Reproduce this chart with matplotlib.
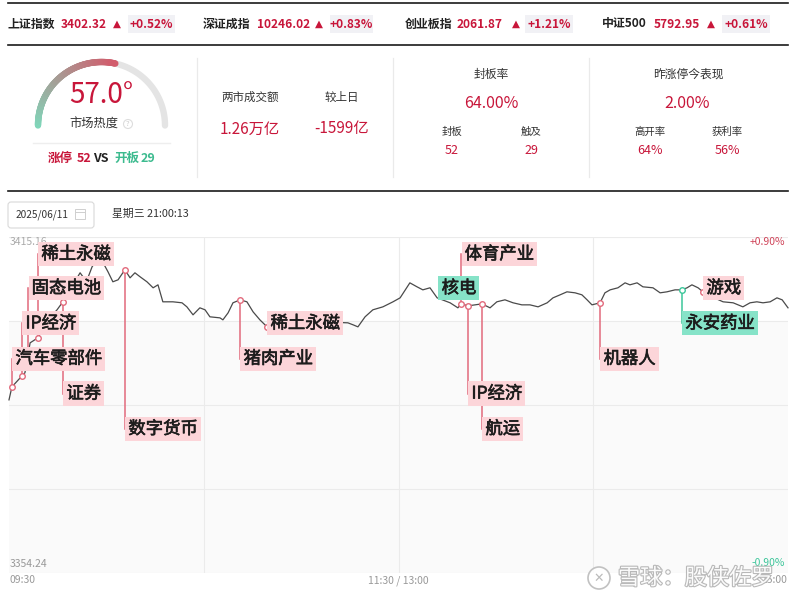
import numpy as np
import matplotlib
matplotlib.use('Agg')
import matplotlib.pyplot as plt
import matplotlib.colors as mcolors
from matplotlib.patches import Rectangle, FancyBboxPatch, Circle
from matplotlib.collections import LineCollection
from matplotlib import patheffects as pe

plt.rcParams['font.family'] = ['Noto Sans CJK SC', 'DejaVu Sans']

# ---------------- data ----------------
index_names = ['上证指数', '深证成指', '创业板指', '中证500']
index_values = ['3402.32', '10246.02', '2061.87', '5792.95']
index_changes = ['+0.52%', '+0.83%', '+1.21%', '+0.61%']

heat_value = 57.0
limit_up = 52
broken = 29
turnover = '1.26万亿'
turnover_diff = '-1599亿'
seal_rate = '64.00%'
sealed = 52
touched = 29
yday_perf = '2.00%'
high_open = '64%'
profit_rate = '56%'

date_str = '2025/06/11'
time_str = '星期三 21:00:13'

prev_close = 3384.70
y_top_label = '3415.16'
y_bottom_label = '3354.24'
pct_top = '+0.90%'
pct_bottom = '-0.90%'
time_labels = ['09:30', '11:30 / 13:00', '15:00']

minutes = [0, 0.9, 4.0, 4.9, 6.5, 8.9, 12.0, 14.8, 16.6, 18.8, 21.9, 22.8, 24.3, 25.6,
           27.1, 29.0, 30.5, 32.0, 33.6, 35.7, 37.3, 38.8, 40.4, 42.5, 44.4, 45.9, 47.4,
           50.5, 53.3, 54.8, 56.7, 58.8, 60.4, 61.9, 65.0, 65.9, 67.5, 69.0, 71.2, 73.3,
           75.2, 77.3, 79.5, 86.6, 95.8, 104.4, 106.0, 107.5, 109.7, 112.1, 115.2, 118.3,
           120.5, 123.5, 125.7, 127.5, 129.7, 131.9, 135.9, 138.3, 139.3, 141.4, 143.6,
           145.7, 148.2, 150.3, 152.8, 155.3, 158.0, 160.5, 163.0, 165.8, 167.6, 169.8,
           171.9, 174.4, 176.5, 178.1, 179.6, 182.1, 183.6, 185.2, 187.6, 189.8, 191.3,
           193.5, 195.3, 198.4, 200.6, 202.7, 205.2, 207.3, 208.9, 210.4, 212.3, 213.8,
           216.6, 220.0, 223.1, 226.1, 228.3, 230.4, 232.3, 234.5, 236.6, 238.2, 240]
prices = [3385.63, 3387.99, 3389.98, 3390.53, 3395.97, 3396.88, 3400.14, 3401.96, 3403.41,
          3405.59, 3408.67, 3407.94, 3407.76, 3409.76, 3411.03, 3410.48, 3408.85, 3407.04,
          3407.40, 3409.21, 3407.76, 3408.67, 3407.94, 3407.04, 3405.95, 3406.49, 3403.41,
          3403.41, 3403.23, 3402.50, 3401.05, 3402.32, 3401.96, 3400.69, 3400.50, 3400.14,
          3401.41, 3403.23, 3403.77, 3403.41, 3401.59, 3400.14, 3398.87, 3398.69, 3399.78,
          3399.60, 3399.24, 3398.87, 3400.69, 3401.96, 3402.50, 3403.41, 3404.13, 3406.85,
          3406.13, 3405.58, 3405.95, 3404.13, 3403.23, 3402.32, 3403.04, 3402.68, 3402.86,
          3403.04, 3402.32, 3403.41, 3403.77, 3403.23, 3402.86, 3402.86, 3402.50, 3403.23,
          3404.13, 3404.68, 3405.22, 3405.04, 3404.68, 3403.77, 3402.86, 3403.23, 3405.04,
          3405.58, 3405.95, 3406.85, 3406.49, 3406.85, 3406.13, 3405.95, 3405.04, 3405.22,
          3405.58, 3405.58, 3405.95, 3406.49, 3405.95, 3405.22, 3404.31, 3403.41, 3403.23,
          3402.50, 3403.23, 3403.41, 3403.23, 3403.41, 3404.13, 3403.77, 3402.32]

event_names = ['汽车零部件', 'IP经济', '固态电池', '稀土永磁', '证券', '数字货币', '猪肉产业',
               '稀土永磁', '核电', '体育产业', 'IP经济', '航运', '机器人', '永安药业', '游戏']
event_minutes = [0.9, 4.0, 5.9, 8.9, 16.6, 35.7, 71.2, 79.5, 132.2, 139.3, 141.4, 145.7,
                 182.1, 207.3, 213.8]
event_kind = ['up', 'up', 'up', 'up', 'up', 'up', 'up', 'up', 'down', 'up', 'up', 'up',
              'up', 'down', 'up']

# ---------------- layout / style ----------------
RED = '#c8163a'
GREEN = '#3dbb8f'
DARK = '#333333'
row_frac = {'A': 0.949, 'B': 0.848, 'C': 0.743, 'D': 0.638, 'E': 0.534, 'F': 0.429}
event_rows = ['D', 'C', 'B', 'A', 'E', 'F', 'D', 'C', 'B', 'A', 'E', 'F', 'D', 'C', 'B']
event_connect = [True, True, True, True, True, True, True, False, False, True, True, True,
                 True, True, False]
event_marker = [True] * 8 + [False] + [True] * 6

fig = plt.figure(figsize=(8, 6.01), dpi=100)
fig.patch.set_facecolor('white')

# ---------------- chart ----------------
ax = fig.add_axes([9 / 800, 1 - 573 / 601, 779 / 800, 336 / 601])
y_lo = prev_close * 0.991
y_hi = prev_close * 1.009
ax.set_xlim(0, 240)
ax.set_ylim(y_lo, y_hi)
for s in ax.spines.values():
    s.set_visible(False)
ax.set_xticks([])
ax.set_yticks([])
ax.axhspan(y_lo, prev_close * 1.0045, color='#fafafa', zorder=0, lw=0)
for k in range(5):
    ax.axhline(y_lo + k * (y_hi - y_lo) / 4, color='#ebebeb', lw=0.8, zorder=1)
for xv in (60, 120, 180):
    ax.axvline(xv, color='#ebebeb', lw=0.8, zorder=1)

ax.plot(minutes, prices, color='#4a4a4a', lw=0.9, zorder=2, clip_on=False)

label_fx = [pe.Stroke(linewidth=0.45, foreground='#1c1c1c'), pe.Normal()]
for name, t, kind, row, con, mk in zip(event_names, event_minutes, event_kind,
                                       event_rows, event_connect, event_marker):
    py = np.interp(t, minutes, prices)
    ly = y_lo + row_frac[row] * (y_hi - y_lo)
    lc = '#e26a7c' if kind == 'up' else '#3cc69a'
    fc = '#fcd5d9' if kind == 'up' else '#86e3c8'
    if con:
        ax.plot([t, t], [py, ly], color=lc, lw=1.1, zorder=3)
    if mk:
        ax.plot([t], [py], 'o', ms=4, mfc='white', mec=lc, mew=1.0, zorder=4)
    ax.annotate(name, xy=(t, ly), xytext=(3.5, 0), textcoords='offset pixels',
                ha='left', va='center', fontsize=12.5, color='#1c1c1c',
                path_effects=label_fx,
                bbox=dict(boxstyle='square,pad=0.18', fc=fc, ec='none'), zorder=5,
                annotation_clip=False)

ax.text(0.0015, 0.985, y_top_label, transform=ax.transAxes, ha='left', va='center',
        fontsize=7.5, color='#aaaaaa', zorder=1.5)
ax.text(0.0015, 0.027, y_bottom_label, transform=ax.transAxes, ha='left', va='center',
        fontsize=7.5, color='#999999')
ax.text(0.996, 0.985, pct_top, transform=ax.transAxes, ha='right', va='center',
        fontsize=7.5, color='#d0455a')
ax.text(0.996, 0.03, pct_bottom, transform=ax.transAxes, ha='right', va='center',
        fontsize=7.5, color='#3cc69a')
for lab, xf, ha in zip(time_labels, [0.001, 0.5, 0.999], ['left', 'center', 'right']):
    ax.text(xf, -0.022, lab, transform=ax.transAxes, ha=ha, va='center',
            fontsize=7.5, color='#999999')

# ---------------- overlay (pixel coordinates) ----------------
ov = fig.add_axes([0, 0, 1, 1])
ov.set_xlim(0, 800)
ov.set_ylim(601, 0)
ov.axis('off')

for yy in (3, 45, 191):
    ov.plot([8, 788], [yy, yy], color='#1a1a1a', lw=1.2)

# index row
name_x = [8, 203, 405, 602]
val_end_x = [107, 310, 503, 700]
arr_x = [113, 315, 512, 707]
box_x = [(128, 175), (330, 373), (525, 573), (722, 770)]
for i in range(4):
    ov.text(name_x[i], 24, index_names[i], fontsize=8.6, fontweight='bold', color='#222',
            ha='left', va='center')
    ov.text(val_end_x[i], 24, index_values[i], fontsize=8.6, fontweight='bold', color=RED,
            ha='right', va='center')
    ov.text(arr_x[i], 24, '▲', fontsize=7.5, color=RED, ha='left', va='center',
            family='DejaVu Sans')
    x0, x1 = box_x[i]
    ov.add_patch(Rectangle((x0, 15), x1 - x0, 18, fc='#f1f1f5', ec='none'))
    ov.text((x0 + x1) / 2, 24, index_changes[i], fontsize=8.6, fontweight='bold', color=RED,
            ha='center', va='center')

# gauge
cx, cy, r = 101.5, 125.5, 63.5
theta_end = 180 - heat_value / 100 * 180
th_bg = np.linspace(np.radians(theta_end), 0, 60)
ov.plot(cx + r * np.cos(th_bg), cy - r * np.sin(th_bg), color='#e4e4e4', lw=4.6,
        solid_capstyle='round')
th = np.linspace(np.pi, np.radians(theta_end), 150)
pts = np.column_stack([cx + r * np.cos(th), cy - r * np.sin(th)])
segs = np.stack([pts[:-1], pts[1:]], axis=1)
c0 = np.array(mcolors.to_rgb('#80d8bb'))
c1 = np.array(mcolors.to_rgb('#d25c6c'))
f = np.linspace(0, 1, len(segs))[:, None]
ov.add_collection(LineCollection(segs, colors=c0 * (1 - f) + c1 * f, linewidths=4.6,
                                 capstyle='round'))
ov.text(cx, 95, f'{heat_value:.1f}°', fontsize=20, color=RED, ha='center', va='center')
ov.text(94, 124, '市场热度', fontsize=8.8, color=DARK, ha='center', va='center')
ov.add_patch(Circle((128, 124), 4.5, fc='none', ec='#dddddd', lw=0.8))
ov.text(128, 124.5, '?', fontsize=5.5, color='#cccccc', ha='center', va='center')
ov.plot([33, 170], [143, 143], color='#eeeeee', lw=1)
ov.text(48, 158, '涨停', fontsize=9, fontweight='bold', color=RED, ha='left', va='center')
ov.text(77, 158, f'{limit_up}', fontsize=9, fontweight='bold', color=RED, ha='left', va='center')
ov.text(93, 158, 'VS', fontsize=9, fontweight='bold', color='#222', ha='left', va='center')
ov.text(114, 158, '开板', fontsize=9, fontweight='bold', color=GREEN, ha='left', va='center')
ov.text(141, 158, f'{broken}', fontsize=9, fontweight='bold', color=GREEN, ha='left', va='center')

for xs in (197, 393, 589):
    ov.plot([xs, xs], [58, 177], color='#eaeaea', lw=0.9)

# turnover
ov.text(250, 97, '两市成交额', fontsize=8.3, color=DARK, ha='center', va='center')
ov.text(342, 97, '较上日', fontsize=8.3, color=DARK, ha='center', va='center')
ov.text(250, 129, turnover, fontsize=11, color=RED, ha='center', va='center')
ov.text(342, 129, turnover_diff, fontsize=11, color=RED, ha='center', va='center')

# seal rate
ov.text(491, 74, '封板率', fontsize=8.5, color=DARK, ha='center', va='center')
ov.text(491, 104, seal_rate, fontsize=11.5, color=RED, ha='center', va='center')
ov.text(452, 132, '封板', fontsize=7.5, color=DARK, ha='center', va='center')
ov.text(531, 132, '触及', fontsize=7.5, color=DARK, ha='center', va='center')
ov.text(452, 150, f'{sealed}', fontsize=9, color=RED, ha='center', va='center')
ov.text(531, 150, f'{touched}', fontsize=9, color=RED, ha='center', va='center')

# yesterday limit-up performance
ov.text(688, 74, '昨涨停今表现', fontsize=8.5, color=DARK, ha='center', va='center')
ov.text(687, 104, yday_perf, fontsize=11.5, color=RED, ha='center', va='center')
ov.text(650, 132, '高开率', fontsize=7.5, color=DARK, ha='center', va='center')
ov.text(727, 132, '获利率', fontsize=7.5, color=DARK, ha='center', va='center')
ov.text(650, 150, high_open, fontsize=9, color=RED, ha='center', va='center')
ov.text(727, 150, profit_rate, fontsize=9, color=RED, ha='center', va='center')

# date bar
ov.add_patch(FancyBboxPatch((8, 202), 86, 26, boxstyle='round,pad=0,rounding_size=3',
                            fc='white', ec='#d9d9d9', lw=0.8))
ov.text(16, 215, date_str, fontsize=7.3, color=DARK, ha='left', va='center')
ov.add_patch(Rectangle((75, 209), 10, 10, fc='none', ec='#cfcfcf', lw=0.7))
ov.plot([75, 85], [212, 212], color='#cfcfcf', lw=0.7)
ov.text(112, 214, time_str, fontsize=7.8, color=DARK, ha='left', va='center')

# watermark
ov.add_patch(Circle((599, 578), 11, fc='white', ec='#bbbbbb', lw=1.2, alpha=0.9))
ov.text(599, 578, '✕', fontsize=9, color='#bbbbbb', ha='center', va='center',
        family='DejaVu Sans')
ov.text(618, 578, '雪球：股侠佐罗', fontsize=16, color='white', ha='left', va='center',
        path_effects=[pe.Stroke(linewidth=1.6, foreground='#b5b5b5'), pe.Normal()],
        alpha=0.95)

fig.savefig('out.png', dpi=100, facecolor='white')
